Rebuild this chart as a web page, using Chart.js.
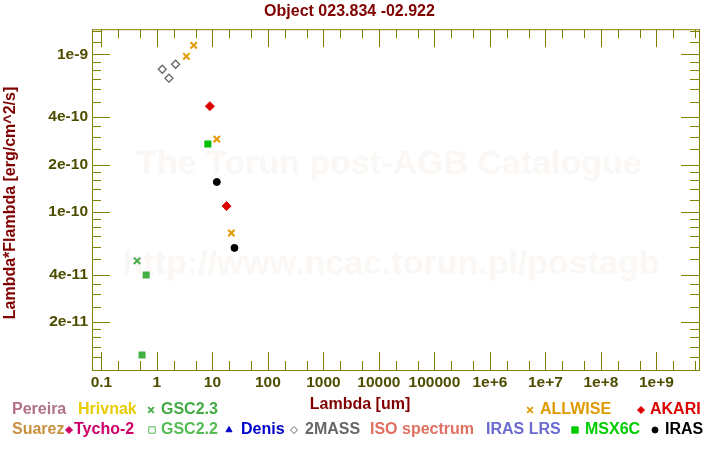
<!DOCTYPE html>
<html>
<head>
<meta charset="utf-8">
<script src="https://cdn.jsdelivr.net/npm/chart.js"></script>
<style>
  html, body { margin: 0; padding: 0; background: #fff; }
  #wrap { width: 720px; height: 450px; }
</style>
</head>
<body>
<div id="wrap"><canvas id="grafico" width="720" height="450"></canvas></div>
<script>
const titulo = 'Object 023.834 -02.922';
const tituloX = 'Lambda [um]';
const tituloY = 'Lambda*Flambda [erg/cm^2/s]';
const marcaAgua = ['The Torun post-AGB Catalogue', 'http://www.ncac.torun.pl/postagb'];

// fotometria (lambda em um, lambda*F_lambda em erg/cm^2/s)
const allwiseX = [3.4, 4.6, 12, 22];
const allwiseY = [9.72e-10, 1.14e-9, 2.90e-10, 7.36e-11];
const massX = [1.25, 1.65, 2.17];
const massY = [8.04e-10, 7.06e-10, 8.66e-10];
const akariX = [9, 18];
const akariY = [4.69e-10, 1.09e-10];
const msxX = [8.28];
const msxY = [2.70e-10];
const irasX = [12, 25];
const irasY = [1.55e-10, 5.92e-11];
const gsc23X = [0.44];
const gsc23Y = [4.90e-11];
const gsc22X = [0.64, 0.54];
const gsc22Y = [3.99e-11, 1.24e-11];

const xTicks = [0.1, 1, 10, 100, 1000, 1e4, 1e5, 1e6, 1e7, 1e8, 1e9];
const xTickLabels = ['0.1', '1', '10', '100', '1000', '10000', '100000', '1e+6', '1e+7', '1e+8', '1e+9'];
const yTicks = [2e-11, 4e-11, 1e-10, 2e-10, 4e-10, 1e-9];
const yTickLabels = ['2e-11', '4e-11', '1e-10', '2e-10', '4e-10', '1e-9'];

// legenda: [texto, cor, simbolo, x do simbolo, x do texto, linha]
const legenda = [
    ['Pereira', '#b07088', null, 0, 12, 0],
    ['Hrivnak', '#e6cc00', null, 0, 78, 0],
    ['GSC2.3', '#44aa44', 'crossRot', 151, 161, 0],
    ['ALLWISE', '#e09a00', 'crossRot', 530, 540, 0],
    ['AKARI', '#dd0000', 'rectRot', 641, 650, 0],
    ['Suarez', '#c89040', null, 0, 12, 1],
    ['Tycho-2', '#cc0066', 'rectRot', 69, 74, 1],
    ['GSC2.2', '#55bb55', 'rectOpen', 152, 161, 1],
    ['Denis', '#0000cc', 'triangle', 229, 241, 1],
    ['2MASS', '#666666', 'rectRotOpen', 294, 305, 1],
    ['ISO spectrum', '#e07060', null, 0, 370, 1],
    ['IRAS LRS', '#6a6ad0', null, 0, 486, 1],
    ['MSX6C', '#00cc00', 'rect', 575, 585, 1],
    ['IRAS', '#000000', 'circle', 655, 665, 1]
];

const FONTE = "'Liberation Sans', Arial, sans-serif";
const corEixo = '#808000';
const corTick = '#4d4d00';
const corTitulo = '#800000';

Chart.defaults.font.family = FONTE;

function pontos(xs, ys) {
    return xs.map((x, i) => ({ x: x, y: ys[i] }));
}

function serie(nome, xs, ys, estilo, cor, raio, fundo, largura) {
    return {
        label: nome,
        data: pontos(xs, ys),
        pointStyle: estilo,
        pointRadius: raio,
        pointHoverRadius: raio,
        borderColor: cor,
        backgroundColor: fundo,
        pointBorderWidth: largura,
        showLine: false
    };
}

const extras = {
    id: 'extras',
    beforeDatasetsDraw(chart) {
        const ctx = chart.ctx;
        ctx.save();
        ctx.fillStyle = '#faf7f4';
        ctx.font = 'bold 34px ' + FONTE;
        ctx.textAlign = 'center';
        ctx.textBaseline = 'alphabetic';
        ctx.fillText(marcaAgua[0], 389, 174);
        ctx.fillText(marcaAgua[1], 391, 274);
        ctx.restore();
    },
    afterDraw(chart) {
        const ctx = chart.ctx;
        const a = chart.chartArea;
        const sx = chart.scales.x, sy = chart.scales.y;
        ctx.save();
        ctx.strokeStyle = corEixo;
        ctx.lineWidth = 1;
        ctx.strokeRect(a.left + 0.5, a.top + 0.5, a.right - a.left, a.bottom - a.top);

        ctx.beginPath();
        for (let d = -2; d <= 10; d++) {
            [1, 2, 5].forEach(m => {
                const v = m * Math.pow(10, d);
                if (v < sx.min || v > sx.max) return;
                const px = Math.round(sx.getPixelForValue(v)) + 0.5;
                const len = m === 1 ? 18 : 9;
                ctx.moveTo(px, a.bottom);
                ctx.lineTo(px, a.bottom - len);
                ctx.moveTo(px, a.top);
                ctx.lineTo(px, a.top + len);
            });
        }
        const mults = [1, 1.2, 1.4, 1.6, 1.8, 2, 2.5, 3, 3.5, 4, 5, 6, 7, 8, 9];
        for (let d = -12; d <= -8; d++) {
            mults.forEach(m => {
                const v = m * Math.pow(10, d);
                if (v < sy.min || v > sy.max) return;
                const py = Math.round(sy.getPixelForValue(v)) + 0.5;
                const len = (m === 1 || m === 2 || m === 4) ? 18 : 9;
                ctx.moveTo(a.left, py);
                ctx.lineTo(a.left + len, py);
                ctx.moveTo(a.right, py);
                ctx.lineTo(a.right - len, py);
            });
        }
        ctx.stroke();

        // titulos dos eixos
        ctx.fillStyle = corTitulo;
        ctx.font = 'bold 16px ' + FONTE;
        ctx.textAlign = 'center';
        ctx.textBaseline = 'middle';
        ctx.fillText(tituloX, 360, 405);
        ctx.save();
        ctx.translate(11, 203);
        ctx.rotate(-Math.PI / 2);
        ctx.fillText(tituloY, 0, 0);
        ctx.restore();

        // legenda
        ctx.textAlign = 'left';
        legenda.forEach(([txt, cor, simb, mx, tx, linha]) => {
            const y = linha === 0 ? 410 : 430;
            if (simb) {
                const aberto = simb.endsWith('Open');
                const estilo = aberto ? simb.replace('Open', '') : simb;
                ctx.strokeStyle = cor;
                ctx.fillStyle = aberto ? '#ffffff' : cor;
                ctx.lineWidth = estilo === 'crossRot' ? 1.8 : 1;
                const r = estilo === 'rect' ? 4.5 : (estilo === 'circle' ? 3 : (estilo === 'crossRot' ? 4 : 3.5));
                Chart.helpers.drawPoint(ctx, { pointStyle: estilo, radius: r, borderWidth: ctx.lineWidth, rotation: 0 }, mx, y);
            }
            ctx.fillStyle = cor;
            ctx.fillText(txt, tx, y);
        });
        ctx.restore();
    }
};

const ctx = document.getElementById('grafico').getContext('2d');
new Chart(ctx, {
    type: 'scatter',
    data: {
        datasets: [
            serie('ALLWISE', allwiseX, allwiseY, 'crossRot', '#e39a00', 4.5, '#e39a00', 2),
            serie('2MASS', massX, massY, 'rectRot', '#666666', 4, 'rgba(0,0,0,0)', 1.3),
            serie('AKARI', akariX, akariY, 'rectRot', '#dd0000', 4.5, '#dd0000', 1),
            serie('MSX6C', msxX, msxY, 'rect', '#00c000', 5, '#00c000', 0),
            serie('IRAS', irasX, irasY, 'circle', '#000000', 3.5, '#000000', 1),
            serie('GSC2.3', gsc23X, gsc23Y, 'crossRot', '#44aa44', 4.5, '#44aa44', 2),
            serie('GSC2.2', gsc22X, gsc22Y, 'rect', '#44b044', 5, '#44b044', 0)
        ]
    },
    options: {
        responsive: false,
        animation: false,
        events: [],
        layout: { padding: { left: 0, right: 21, top: 0, bottom: 0 } },
        plugins: {
            legend: { display: false },
            tooltip: { enabled: false },
            title: {
                display: true,
                text: titulo,
                color: corTitulo,
                font: { size: 16, weight: 'bold', family: FONTE },
                padding: { top: 2, bottom: 8 }
            }
        },
        scales: {
            x: {
                type: 'logarithmic',
                min: 0.0677,
                max: 5.86e9,
                grid: { display: false, drawTicks: false },
                border: { display: false },
                afterBuildTicks: s => { s.ticks = xTicks.map(v => ({ value: v })); },
                afterFit: s => { s.height = 80; },
                ticks: {
                    color: corTick,
                    font: { size: 15.5, weight: 'bold', family: FONTE },
                    padding: 3,
                    maxRotation: 0,
                    autoSkip: false,
                    callback: (v) => xTickLabels[xTicks.indexOf(v)]
                }
            },
            y: {
                type: 'logarithmic',
                min: 9.95e-12,
                max: 1.444e-9,
                grid: { display: false, drawTicks: false },
                border: { display: false },
                afterBuildTicks: s => { s.ticks = yTicks.map(v => ({ value: v })); },
                afterFit: s => { s.width = 92; },
                ticks: {
                    color: corTick,
                    font: { size: 15.5, weight: 'bold', family: FONTE },
                    padding: 4,
                    autoSkip: false,
                    callback: (v) => yTickLabels[yTicks.indexOf(v)]
                }
            }
        }
    },
    plugins: [extras]
});
</script>
</body>
</html>
